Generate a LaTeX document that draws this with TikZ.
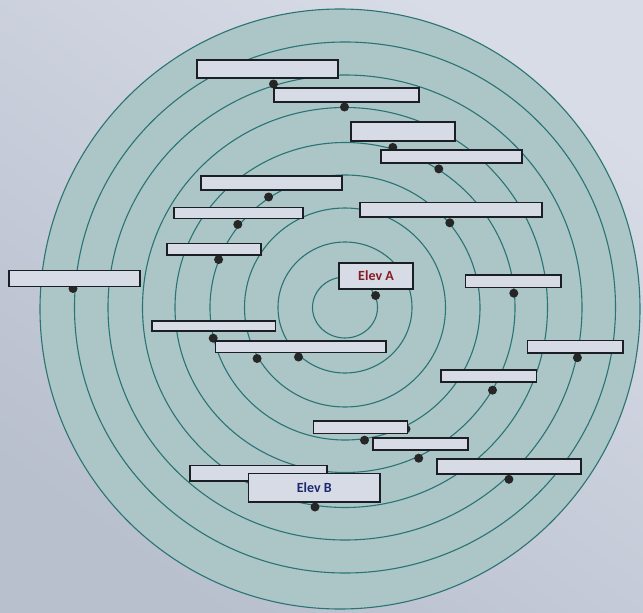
\documentclass[tikz,border=0pt]{standalone}
\usepackage{fontspec}
\setmainfont{Carlito}
\usetikzlibrary{fit}
\definecolor{paperT}{RGB}{216,220,231}
\definecolor{paperB}{RGB}{184,191,205}
\definecolor{disc}{RGB}{172,197,199}
\definecolor{ringc}{RGB}{42,116,116}
\definecolor{boxfill}{RGB}{215,219,229}
\definecolor{boxline}{RGB}{28,30,38}
\definecolor{elevA}{RGB}{135,28,38}
\definecolor{elevB}{RGB}{28,40,112}
\tikzset{
  ringline/.style={draw=ringc, line width=1.1pt},
  lblbox/.style={draw=boxline, fill=boxfill, line width=1.2pt, inner sep=0pt},
  spot/.style={circle, fill=black!85, inner sep=0pt, minimum size=9pt},
  elevtext/.style={font=\fontsize{14}{16}\selectfont\bfseries}
}
\newcommand\lbox[5]{\node[lblbox, fit={(#2,#3) (#4,#5)}] (#1) {};}
\begin{document}
\begin{tikzpicture}[x=1pt,y=-1pt]
\useasboundingbox (0,0) rectangle (643,613);
\shade[top color=paperT, bottom color=paperB, shading angle=-35] (0,0) rectangle (643,613);
% outer disc
\draw[ringline, fill=disc] (340,309) circle[radius=300pt];
% rings
\foreach \rx/\ry in {32.5/30.5, 67/65.5, 100.5/99.5, 135/132.5, 170/165, 202.5/200, 237/232.5, 270.5/265.5}
  \draw[ringline] (345,307.5) ellipse[x radius=\rx pt, y radius=\ry pt];
% dots
\node[spot] (d1) at (273.5,84) {};
\node[spot] (d2) at (344.5,107) {};
\node[spot] (d3) at (392.8,147.4) {};
\node[spot] (d4) at (438.8,168.9) {};
\node[spot] (d5) at (268.6,197) {};
\node[spot] (d6) at (237.8,224.4) {};
\node[spot] (d7) at (449.8,222.8) {};
\node[spot] (d8) at (218.6,259.6) {};
\node[spot] (d9) at (73,288.5) {};
\node[spot] (d10) at (375.6,295.5) {};
\node[spot] (d11) at (513.8,293.2) {};
\node[spot] (d12) at (213.2,338.2) {};
\node[spot] (d13) at (257.1,358.5) {};
\node[spot] (d14) at (298.5,357) {};
\node[spot] (d15) at (577.4,357.7) {};
\node[spot] (d16) at (492.5,390.2) {};
\node[spot] (d17) at (406,429) {};
\node[spot] (d18) at (364.5,440.2) {};
\node[spot] (d19) at (418.7,458.2) {};
\node[spot] (d20) at (508.9,479.3) {};
\node[spot] (d21) at (315,507) {};
% boxes
\lbox{b1}{197}{60}{338}{78}
\lbox{b2}{274}{88}{419}{102}
\lbox{b3}{351}{122}{455}{141}
\lbox{b4}{381}{150}{522}{163}
\lbox{b5}{201}{176}{342}{190}
\lbox{b6}{174}{207.5}{303}{218.5}
\lbox{b7}{360}{202.5}{542}{217}
\lbox{b8}{167}{243.5}{261}{255}
\lbox{b9}{9}{270.5}{140}{286.5}
\lbox{b11}{465.5}{275}{561}{287.5}
\lbox{b12}{152}{321}{275.5}{331}
\lbox{b13}{215.5}{341}{386}{352.5}
\lbox{b14}{527.5}{340.5}{623}{353}
\lbox{b15}{441}{370}{536.5}{382}
\lbox{b16}{313.5}{421}{407.5}{433.5}
\lbox{b17}{373}{438}{468}{450}
\lbox{b18}{190}{465.5}{327}{481}
\lbox{b20}{437}{459}{581}{474}
\node[lblbox, fit={(339,263) (413,289)}] (bA) {};
\node[elevtext, text=elevA] (tA) at (bA.center) {Elev A};
\node[lblbox, fit={(248.5,473.5) (380,502)}] (bB) {};
\node[elevtext, text=elevB] (tB) at (bB.center) {Elev B};
\end{tikzpicture}
\end{document}
